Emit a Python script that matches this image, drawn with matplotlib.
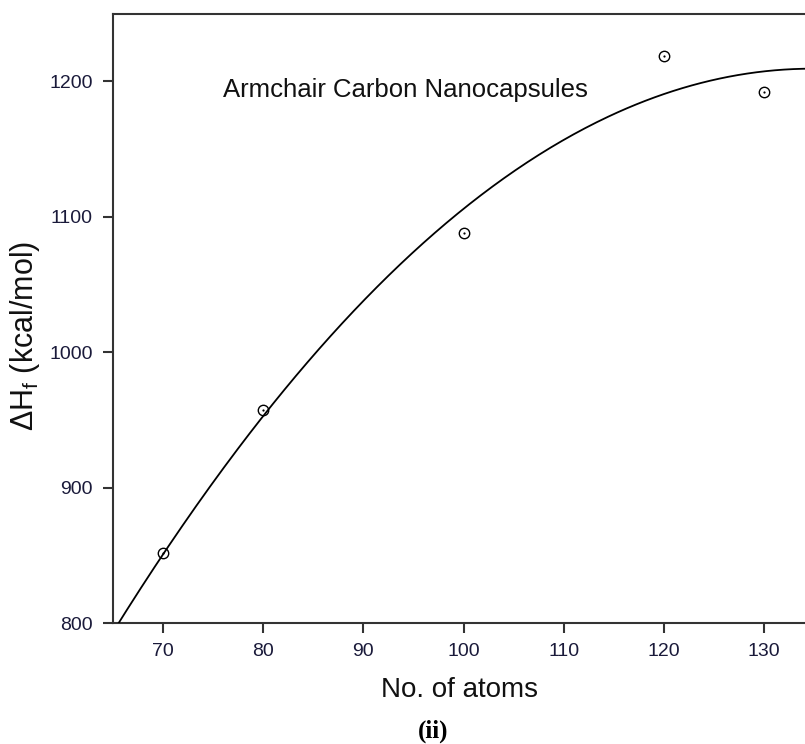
import numpy as np
import matplotlib
matplotlib.use('Agg')
from matplotlib import pyplot as plt

plt.rcParams['font.family'] = ['Liberation Sans', 'DejaVu Sans']
plt.rcParams['mathtext.fontset'] = 'custom'
plt.rcParams['mathtext.rm'] = 'Liberation Sans'

# data
n_atoms = [70, 80, 100, 120, 130]
dh_f = [851.5, 957.0, 1087.7, 1218.5, 1192.0]
x_ticks = [70, 80, 90, 100, 110, 120, 130]
y_ticks = [800, 900, 1000, 1100, 1200]

# second order regression line through the points
coef = np.polyfit(n_atoms, dh_f, 2)
xfit = np.linspace(65, 134.1, 300)
yfit = np.polyval(coef, xfit)

fig = plt.figure(figsize=(8.05, 7.44), dpi=100, facecolor='w')
ax = fig.add_axes([113 / 805, 121 / 744, 1 - 113 / 805, 609 / 744])

ax.plot(xfit, yfit, color='black', lw=1.3, zorder=3)
ax.plot(n_atoms, dh_f, linestyle='none', marker='o', markersize=7.5,
        markerfacecolor='none', markeredgecolor='black', markeredgewidth=1.0, zorder=4)
ax.plot(n_atoms, dh_f, linestyle='none', marker='o', markersize=1.6,
        markerfacecolor='black', markeredgecolor='black', markeredgewidth=0, zorder=5)

ax.set_xlim(65, 134.1)
ax.set_ylim(800, 1249.5)
ax.set_xticks(x_ticks)
ax.set_yticks(y_ticks)

spine_col = '#333333'
for side in ['left', 'bottom', 'top']:
    ax.spines[side].set_linewidth(1.5)
    ax.spines[side].set_color(spine_col)
ax.spines['right'].set_visible(False)
ax.tick_params(axis='both', which='major', direction='out', length=7.5,
               width=1.5, color=spine_col, labelsize=14, labelcolor='#1a1a3a', pad=7)

ax.text(76.0, 1193.5, 'Armchair Carbon Nanocapsules', fontsize=18.5,
        ha='left', va='center', color='#111111')

ax.set_xlabel('No. of atoms', fontsize=20, labelpad=12, color='#111111')
fig.text(25 / 805, 1 - 336 / 744, r'$\Delta$H$_\mathregular{f}$ (kcal/mol)',
         rotation=90, ha='center', va='center', fontsize=22, color='#111111')
fig.text(433 / 805, 1 - 731 / 744, '(ii)', fontsize=18, fontweight='bold',
         family='Liberation Serif', ha='center', va='center')

fig.savefig('out.png', dpi=100)
